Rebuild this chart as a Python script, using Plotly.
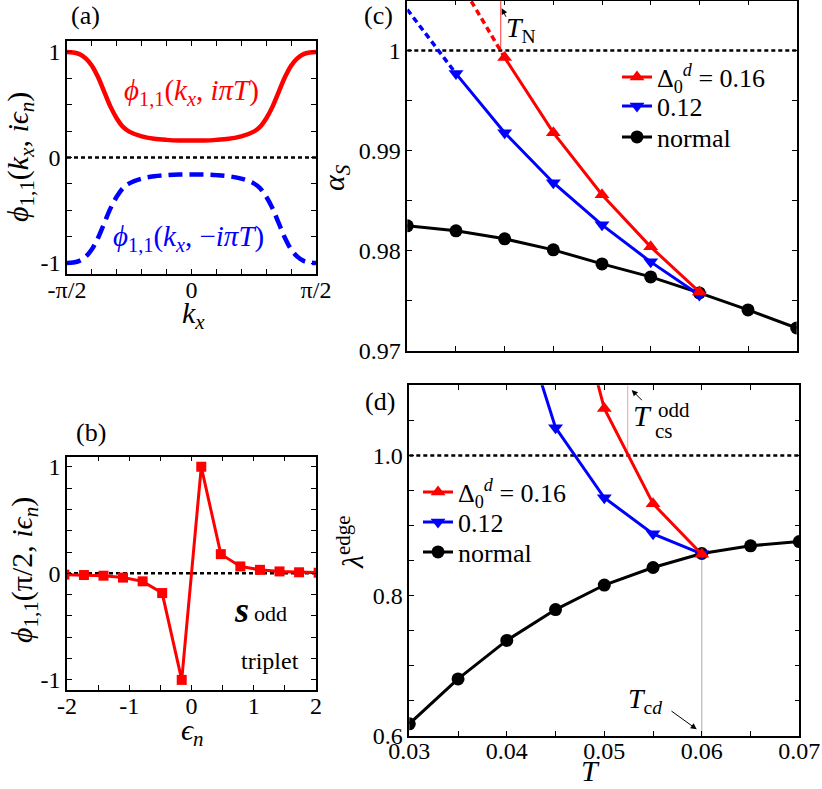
import numpy as np
import plotly.graph_objects as go

W, H = 822, 789
SERIF = "Liberation Serif"

# --- panel (a): phi_{1,1}(kx, +/- i pi T), kx in units of pi/2 ---
kx_frac = [-1.0, -0.95, -0.9, -0.85, -0.8, -0.75, -0.7, -0.65, -0.6, -0.55, -0.5,
           -0.4, -0.3, -0.2, -0.1, 0.0, 0.1, 0.2, 0.3, 0.4,
           0.5, 0.55, 0.6, 0.65, 0.7, 0.75, 0.8, 0.85, 0.9, 0.95, 1.0]
phi_plus = [1.0, 0.995, 0.98, 0.94, 0.87, 0.76, 0.62, 0.48, 0.37, 0.29, 0.245,
            0.20, 0.178, 0.167, 0.161, 0.16, 0.161, 0.167, 0.178, 0.20,
            0.245, 0.29, 0.37, 0.48, 0.62, 0.76, 0.87, 0.94, 0.98, 0.995, 1.0]
phi_minus = [-1.0, -0.995, -0.98, -0.94, -0.87, -0.76, -0.62, -0.48, -0.37, -0.29, -0.245,
             -0.20, -0.178, -0.167, -0.161, -0.16, -0.161, -0.167, -0.178, -0.20,
             -0.245, -0.29, -0.37, -0.48, -0.62, -0.76, -0.87, -0.94, -0.98, -0.995, -1.0]
kx = [f * np.pi / 2 for f in kx_frac]

# --- panel (b): phi_{1,1}(pi/2, i eps_n) ---
eps_n = [-2.042, -1.728, -1.414, -1.100, -0.785, -0.471, -0.157,
         0.157, 0.471, 0.785, 1.100, 1.414, 1.728, 2.042]
phi_eps = [-0.012, -0.016, -0.022, -0.04, -0.075, -0.185, -1.0,
           1.0, 0.18, 0.065, 0.033, 0.018, 0.01, 0.006]

# --- panel (c): alpha_S vs T ---
T_all = [0.03, 0.035, 0.04, 0.045, 0.05, 0.055, 0.06, 0.065, 0.07]
alpha_normal = [0.9825, 0.9820, 0.9812, 0.9801, 0.9787, 0.9774, 0.9758, 0.9741, 0.9723]
T_c16 = [0.04, 0.045, 0.05, 0.055, 0.06]
alpha_16 = [0.9993, 0.9918, 0.9856, 0.9804, 0.9759]
T_c16_ext = [0.035, 0.04]
alpha_16_ext = [1.0075, 0.9993]
T_c12 = [0.035, 0.04, 0.045, 0.05, 0.055, 0.06]
alpha_12 = [0.9977, 0.9918, 0.9868, 0.9826, 0.9789, 0.9756]
T_c12_ext = [0.03, 0.035]
alpha_12_ext = [1.0041, 0.9977]
T_N = 0.0396

# --- panel (d): lambda^edge vs T ---
lam_normal = [0.617, 0.681, 0.736, 0.780, 0.815, 0.840, 0.860, 0.871, 0.877]
T_d16 = [0.045, 0.05, 0.055, 0.06]
lam_16 = [1.33, 1.067, 0.931, 0.859]
T_d12 = [0.04, 0.045, 0.05, 0.055, 0.06]
lam_12 = [1.26, 1.0395, 0.9395, 0.888, 0.8595]
T_cs_odd = 0.0524
T_cd = 0.06

# tick labels
a_xticks = [k * np.pi / 10 for k in range(-5, 6)]
a_xlabels = ["-π/2", "", "", "", "", "0", "", "", "", "", "π/2"]
a_yticks = [-1, -0.75, -0.5, -0.25, 0, 0.25, 0.5, 0.75, 1]
a_ylabels = ["-1", "", "", "", "0", "", "", "", "1"]
b_xticks = [-2, -1.5, -1, -0.5, 0, 0.5, 1, 1.5, 2]
b_xlabels = ["-2", "", "-1", "", "0", "", "1", "", "2"]
b_yticks = [-1, -0.8, -0.6, -0.4, -0.2, 0, 0.2, 0.4, 0.6, 0.8, 1]
b_ylabels = ["-1", "", "", "", "", "0", "", "", "", "", "1"]
T_ticks = [0.03, 0.035, 0.04, 0.045, 0.05, 0.055, 0.06, 0.065, 0.07]
T_labels = ["0.03", "", "0.04", "", "0.05", "", "0.06", "", "0.07"]
c_yticks = [0.97, 0.975, 0.98, 0.985, 0.99, 0.995, 1.0]
c_ylabels = ["0.97", "", "0.98", "", "0.99", "", "1"]
d_yticks = [0.6, 0.65, 0.7, 0.75, 0.8, 0.85, 0.9, 0.95, 1.0, 1.05]
d_ylabels = ["0.6", "", "", "", "0.8", "", "", "", "1.0", ""]

LBL_16 = "Δ<sub>0</sub><sup><i>d</i></sup> = 0.16"


def px(x):
    return x / W


def py(y):
    return 1 - y / H


fig = go.Figure()

# (a)
fig.add_trace(go.Scatter(x=[-np.pi / 2, np.pi / 2], y=[0, 0], mode="lines",
                         line=dict(color="black", width=2.5, dash="4px,3px"),
                         xaxis="x", yaxis="y", showlegend=False))
fig.add_trace(go.Scatter(x=kx, y=phi_plus, mode="lines", line=dict(color="red", width=4.5, shape="spline"),
                         xaxis="x", yaxis="y", showlegend=False))
fig.add_trace(go.Scatter(x=kx, y=phi_minus, mode="lines",
                         line=dict(color="blue", width=4.5, shape="spline", dash="14px,7px"),
                         xaxis="x", yaxis="y", showlegend=False))

# (b)
fig.add_trace(go.Scatter(x=[-2, 2], y=[0, 0], mode="lines",
                         line=dict(color="black", width=2.5, dash="4px,3px"),
                         xaxis="x2", yaxis="y2", showlegend=False))
fig.add_trace(go.Scatter(x=eps_n, y=phi_eps, mode="lines+markers",
                         line=dict(color="red", width=3),
                         marker=dict(symbol="square", size=10, color="red"),
                         xaxis="x2", yaxis="y2", showlegend=False))

# (c)
fig.add_trace(go.Scatter(x=[0.03, 0.07], y=[1, 1], mode="lines",
                         line=dict(color="black", width=2.5, dash="4px,3px"),
                         xaxis="x3", yaxis="y3", showlegend=False))
fig.add_trace(go.Scatter(x=[T_N, T_N], y=[1.0, 1.006], mode="lines",
                         line=dict(color="red", width=0.8),
                         xaxis="x3", yaxis="y3", showlegend=False))
fig.add_trace(go.Scatter(x=T_c16_ext, y=alpha_16_ext, mode="lines",
                         line=dict(color="red", width=3.5, dash="6px,4px"),
                         xaxis="x3", yaxis="y3", showlegend=False))
fig.add_trace(go.Scatter(x=T_c12_ext, y=alpha_12_ext, mode="lines",
                         line=dict(color="blue", width=3.5, dash="6px,4px"),
                         xaxis="x3", yaxis="y3", showlegend=False))
fig.add_trace(go.Scatter(x=T_all, y=alpha_normal, mode="lines+markers", name="normal",
                         line=dict(color="black", width=3), marker=dict(symbol="circle", size=13, color="black"),
                         xaxis="x3", yaxis="y3", legend="legend3"))
fig.add_trace(go.Scatter(x=T_c12, y=alpha_12, mode="lines+markers", name="0.12",
                         line=dict(color="blue", width=3), marker=dict(symbol="triangle-down", size=13, color="blue"),
                         xaxis="x3", yaxis="y3", legend="legend2"))
fig.add_trace(go.Scatter(x=T_c16, y=alpha_16, mode="lines+markers", name=LBL_16,
                         line=dict(color="red", width=3), marker=dict(symbol="triangle-up", size=13, color="red"),
                         xaxis="x3", yaxis="y3", legend="legend"))

# (d)
fig.add_trace(go.Scatter(x=[0.03, 0.07], y=[1, 1], mode="lines",
                         line=dict(color="black", width=2.5, dash="4px,3px"),
                         xaxis="x4", yaxis="y4", showlegend=False))
fig.add_trace(go.Scatter(x=[T_cs_odd, T_cs_odd], y=[1.0, 1.1], mode="lines",
                         line=dict(color="#ff8080", width=0.8),
                         xaxis="x4", yaxis="y4", showlegend=False))
fig.add_trace(go.Scatter(x=[T_cd, T_cd], y=[0.6, 0.859], mode="lines",
                         line=dict(color="#aaaaaa", width=1),
                         xaxis="x4", yaxis="y4", showlegend=False))
fig.add_trace(go.Scatter(x=T_all, y=lam_normal, mode="lines+markers", name="normal",
                         line=dict(color="black", width=3), marker=dict(symbol="circle", size=13, color="black"),
                         xaxis="x4", yaxis="y4", legend="legend6"))
fig.add_trace(go.Scatter(x=T_d12, y=lam_12, mode="lines+markers", name="0.12",
                         line=dict(color="blue", width=3), marker=dict(symbol="triangle-down", size=13, color="blue"),
                         xaxis="x4", yaxis="y4", legend="legend5"))
fig.add_trace(go.Scatter(x=T_d16, y=lam_16, mode="lines+markers", name=LBL_16,
                         line=dict(color="red", width=3), marker=dict(symbol="triangle-up", size=13, color="red"),
                         xaxis="x4", yaxis="y4", legend="legend4"))

axis_style = dict(showline=True, linecolor="black", linewidth=1.5, mirror="ticks",
                  ticks="inside", ticklen=5, tickwidth=1.2, tickcolor="black",
                  showgrid=False, zeroline=False, automargin=False,
                  tickfont=dict(family=SERIF, size=24, color="black"))
x_style = dict(axis_style, ticklabelstandoff=-7)


def legend_at(x, y):
    return dict(x=px(x), y=py(y), xanchor="left", yanchor="middle",
                bgcolor="rgba(0,0,0,0)", font=dict(family=SERIF, size=26, color="black"),
                itemwidth=30)


fig.update_layout(
    template="none",
    width=W, height=H,
    margin=dict(l=0, r=0, t=0, b=0),
    paper_bgcolor="white", plot_bgcolor="white",
    font=dict(family=SERIF, color="black"),
    xaxis=dict(domain=[px(67), px(316)], range=[-np.pi / 2, np.pi / 2], anchor="y",
               tickvals=a_xticks, ticktext=a_xlabels, **x_style),
    yaxis=dict(domain=[py(274), py(41)], range=[-1.104, 1.104], anchor="x",
               tickvals=a_yticks, ticktext=a_ylabels, **axis_style),
    xaxis2=dict(domain=[px(67), px(316)], range=[-2, 2], anchor="y2",
                tickvals=b_xticks, ticktext=b_xlabels, **x_style),
    yaxis2=dict(domain=[py(690), py(456.7)], range=[-1.095, 1.095], anchor="x2",
                tickvals=b_yticks, ticktext=b_ylabels, **axis_style),
    xaxis3=dict(domain=[px(407.3), px(796.7)], range=[0.03, 0.07], anchor="y3",
                tickvals=T_ticks, ticktext=[""] * len(T_ticks), **x_style),
    yaxis3=dict(domain=[py(351), py(0.5)], range=[0.97, 1.005], anchor="x3",
                tickvals=c_yticks, ticktext=c_ylabels, **axis_style),
    xaxis4=dict(domain=[px(409.3), px(799.3)], range=[0.03, 0.07], anchor="y4",
                tickvals=T_ticks, ticktext=T_labels, **x_style),
    yaxis4=dict(domain=[py(735.7), py(385.3)], range=[0.6, 1.1], anchor="x4",
                tickvals=d_yticks, ticktext=d_ylabels, **axis_style),
    legend=legend_at(617, 77),
    legend2=legend_at(617, 106),
    legend3=legend_at(617, 137),
    legend4=legend_at(418, 492),
    legend5=legend_at(418, 522),
    legend6=legend_at(418, 552),
)


def label(text, x, y, size, color="black", angle=0):
    fig.add_annotation(text=text, x=px(x), y=py(y), xref="paper", yref="paper",
                       showarrow=False, textangle=angle, xanchor="center", yanchor="middle",
                       font=dict(family=SERIF, size=size, color=color))


def arrow(x_tip, y_tip, x_tail, y_tail):
    fig.add_annotation(text="", x=px(x_tip), y=py(y_tip), xref="paper", yref="paper",
                       ax=x_tail - x_tip, ay=y_tail - y_tip, showarrow=True,
                       arrowhead=2, arrowsize=1.2, arrowwidth=1, arrowcolor="black")


# panel tags
label("(a)", 85, 15, 26)
label("(b)", 91, 433, 26)
label("(c)", 378, 15, 26)
label("(d)", 380, 401, 26)

# (a) texts
label("<i>ϕ</i><sub>1,1</sub>(<i>k<sub>x</sub></i>, <i>iϵ<sub>n</sub></i>)", 20, 157, 30, angle=-90)
label("<i>k<sub>x</sub></i>", 193, 315, 30)
label("<i>ϕ</i><sub>1,1</sub>(<i>k<sub>x</sub></i>, <i>iπT</i>)", 191, 92, 29, color="red")
label("<i>ϕ</i><sub>1,1</sub>(<i>k<sub>x</sub></i>, −<i>iπT</i>)", 188, 238, 29, color="blue")

# (b) texts
label("<i>ϕ</i><sub>1,1</sub>(π/2, <i>iϵ<sub>n</sub></i>)", 24, 570, 30, angle=-90)
label("<i>ϵ<sub>n</sub></i>", 192, 732, 30)
label("<b><i>s</i></b>", 242, 610, 36)
label("odd", 270, 613, 22)
label("triplet", 270, 661, 24)

# (c) texts
label("<i>α<sub>S</sub></i>", 336, 178, 30, angle=-90)
label("<i>T</i><sub>N</sub>", 521, 29, 28)
arrow(501.7, 8.3, 506.7, 18.3)

# (d) texts
label("<i>λ</i><sup>edge</sup>", 350, 542, 30, angle=-90)
label("<i>T</i>", 590, 770, 30)
label("<i>T</i>", 642, 415, 30)
label("odd", 674, 410, 21)
label("cs", 664, 431, 21)
arrow(631.7, 390, 643.3, 401.7)
label("<i>T</i><sub>c<i>d</i></sub>", 645, 700, 28)
arrow(696.7, 729.3, 670, 710)

fig.write_html("out.html", config={"displayModeBar": False},
               post_script="document.body.style.margin = '0px';")
